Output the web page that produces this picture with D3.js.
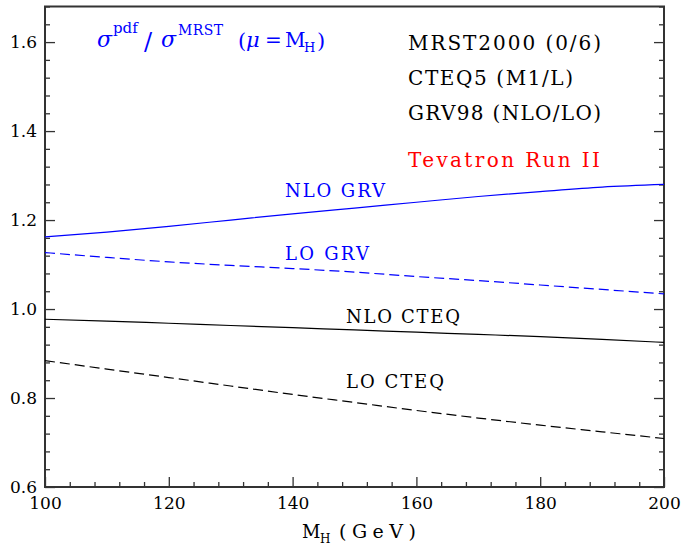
<!DOCTYPE html>
<html><head><meta charset="utf-8">
<script src="https://cdn.jsdelivr.net/npm/d3@7"></script>
<style>
html,body{margin:0;padding:0;background:#fff;}
svg{display:block;}
text{font-family:"DejaVu Serif",serif;}
</style></head>
<body>
<svg id="chart" width="683" height="546"></svg>
<script>
// ---- data ----
const massGeV = [100, 110, 120, 130, 140, 150, 160, 170, 180, 190, 200];
const nloGRV  = [1.162, 1.173, 1.186, 1.200, 1.214, 1.227, 1.240, 1.253, 1.264, 1.274, 1.280];
const loGRV   = [1.127, 1.116, 1.106, 1.098, 1.091, 1.083, 1.073, 1.064, 1.054, 1.044, 1.034];
const nloCTEQ = [0.977, 0.973, 0.968, 0.963, 0.958, 0.953, 0.948, 0.943, 0.938, 0.932, 0.925];
const loCTEQ  = [0.884, 0.865, 0.846, 0.827, 0.808, 0.790, 0.772, 0.755, 0.739, 0.724, 0.709];
const xMajorTicks = [100, 120, 140, 160, 180, 200];
const yMajorTicks = [0.6, 0.8, 1.0, 1.2, 1.4, 1.6];
const legendLines = ["MRST2000 (0/6)", "CTEQ5 (M1/L)", "GRV98 (NLO/LO)"];
const energyLabel = "Tevatron Run II";

const svg = d3.select("#chart");
const L = 45, R = 664, T = 6.5, B = 487;
const x = d3.scaleLinear().domain([100, 200]).range([L, R]);
const y = d3.scaleLinear().domain([0.6, 1.68]).range([B, T]);

const xMinor = d3.range(100, 200.01, 4).filter(v => !xMajorTicks.includes(v));
const yMinor = d3.range(0.6, 1.681, 0.04).map(v => +v.toFixed(2)).filter(v => !yMajorTicks.some(m => Math.abs(m - v) < 1e-6));

const axisColor = "#333";
function styleAxis(g) {
  g.select(".domain").remove();
  g.selectAll(".tick line").attr("stroke", axisColor).attr("stroke-width", 1.3);
  g.selectAll(".tick text").attr("fill", "#000").style("font-family", "DejaVu Serif").style("font-size", "17px");
}
// left
svg.append("g").attr("transform", `translate(${L},0)`)
  .call(d3.axisLeft(y).tickValues(yMajorTicks).tickSize(-10).tickSizeOuter(0).tickPadding(8).tickFormat(d3.format(".1f")))
  .call(styleAxis);
svg.append("g").attr("transform", `translate(${L},0)`)
  .call(d3.axisLeft(y).tickValues(yMinor).tickSize(-5).tickSizeOuter(0).tickFormat(""))
  .call(styleAxis);
// right
svg.append("g").attr("transform", `translate(${R},0)`)
  .call(d3.axisRight(y).tickValues(yMajorTicks).tickSize(-10).tickSizeOuter(0).tickFormat(""))
  .call(styleAxis);
svg.append("g").attr("transform", `translate(${R},0)`)
  .call(d3.axisRight(y).tickValues(yMinor).tickSize(-5).tickSizeOuter(0).tickFormat(""))
  .call(styleAxis);
// bottom
svg.append("g").attr("transform", `translate(0,${B})`)
  .call(d3.axisBottom(x).tickValues(xMajorTicks).tickSize(-10).tickSizeOuter(0).tickPadding(10).tickFormat(d3.format("d")))
  .call(styleAxis);
svg.append("g").attr("transform", `translate(0,${B})`)
  .call(d3.axisBottom(x).tickValues(xMinor).tickSize(-5).tickSizeOuter(0).tickFormat(""))
  .call(styleAxis);

// frame
svg.append("rect").attr("x", L).attr("y", T).attr("width", R - L).attr("height", B - T)
  .attr("fill", "none").attr("stroke", axisColor).attr("stroke-width", 2);

// curves
const line = d3.line().x((d, i) => x(massGeV[i])).y(d => y(d)).curve(d3.curveMonotoneX);
const series = [
  {v: nloGRV, color: "#0000ff", dash: null},
  {v: loGRV, color: "#0000ff", dash: "10,5"},
  {v: nloCTEQ, color: "#000", dash: null},
  {v: loCTEQ, color: "#000", dash: "10,5"},
];
series.forEach(s => {
  svg.append("path").datum(s.v).attr("d", line).attr("fill", "none")
    .attr("stroke", s.color).attr("stroke-width", 1.2)
    .attr("stroke-dasharray", s.dash);
});

// curve labels
const curveLabels = [
  {t: "NLO GRV", x: 285, y: 197, w: 100, c: "#0000ff"},
  {t: "LO GRV", x: 285, y: 260, w: 84, c: "#0000ff"},
  {t: "NLO CTEQ", x: 346, y: 323, w: 114, c: "#000"},
  {t: "LO CTEQ", x: 346, y: 388, w: 98, c: "#000"},
];
curveLabels.forEach(l => {
  svg.append("text").attr("x", l.x).attr("y", l.y).attr("fill", l.c)
    .style("font-size", "18px").attr("textLength", l.w).attr("lengthAdjust", "spacing").text(l.t);
});

// legend text
const legW = [193, 165, 193];
legendLines.forEach((t, i) => {
  svg.append("text").attr("x", 408).attr("y", 50 + i * 35).attr("fill", "#000")
    .style("font-size", "20px").attr("textLength", legW[i]).attr("lengthAdjust", "spacing").text(t);
});
svg.append("text").attr("x", 408).attr("y", 167).attr("fill", "#ff0000")
  .style("font-size", "20px").attr("textLength", 192).attr("lengthAdjust", "spacing").text(energyLabel);

// title
const title = svg.append("g").attr("fill", "#0000ff");
title.append("text").attr("x", 97).attr("y", 47).style("font-size", "22px").style("font-style", "italic").text("σ");
title.append("text").attr("x", 113).attr("y", 33).style("font-size", "15px").text("pdf");
title.append("text").attr("x", 144).attr("y", 50).style("font-size", "24px").text("/");
title.append("text").attr("x", 161).attr("y", 47).style("font-size", "22px").style("font-style", "italic").text("σ");
title.append("text").attr("x", 178).attr("y", 35).style("font-size", "14px").attr("textLength", 45).attr("lengthAdjust", "spacing").text("MRST");
title.append("text").attr("x", 238).attr("y", 48).style("font-size", "21px").text("(");
title.append("text").attr("x", 246).attr("y", 47).style("font-size", "21px").style("font-style", "italic").text("μ");
title.append("text").attr("x", 265).attr("y", 47).style("font-size", "20px").text("=");
title.append("text").attr("x", 285).attr("y", 47).style("font-size", "20px").text("M");
title.append("text").attr("x", 304).attr("y", 52).style("font-size", "13px").text("H");
title.append("text").attr("x", 317).attr("y", 48).style("font-size", "21px").text(")");

// x-axis label
const xl = svg.append("g").attr("fill", "#000");
xl.append("text").attr("x", 302).attr("y", 538).style("font-size", "18px").text("M");
xl.append("text").attr("x", 320).attr("y", 543).style("font-size", "12px").text("H");
xl.append("text").attr("x", 339).attr("y", 538).style("font-size", "19px").attr("textLength", 77).attr("lengthAdjust", "spacing").text("(GeV)");
</script>
</body></html>
